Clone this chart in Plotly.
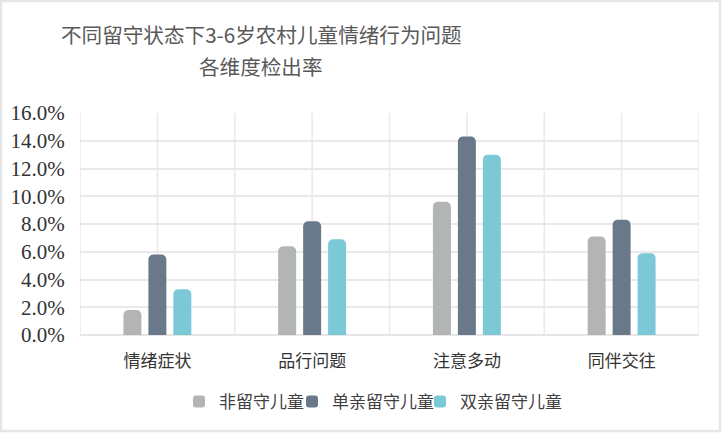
import plotly.graph_objects as go

categories = ["情绪症状", "品行问题", "注意多动", "同伴交往"]
series_names = ["非留守儿童", "单亲留守儿童", "双亲留守儿童"]
non_left = [0.018, 0.064, 0.096, 0.071]
single_left = [0.058, 0.082, 0.143, 0.083]
double_left = [0.033, 0.069, 0.130, 0.059]
series_values = [non_left, single_left, double_left]
colors = ["#b3b5b4", "#6a798a", "#7bc8d6"]
y_ticks = [0, 0.02, 0.04, 0.06, 0.08, 0.10, 0.12, 0.14, 0.16]
title_lines = ["不同留守状态下3-6岁农村儿童情绪行为问题", "各维度检出率"]

W, H = 722, 433
ML, MR, MT, MB = 80, 23, 113, 98
PW, PH = W - ML - MR, H - MT - MB

def px_x(p):
    return (p - ML) / PW

def px_y(p):
    return (MT + PH - p) / PH

legend_names = ["legend", "legend2", "legend3"]
legend_text_starts = [219, 332, 460]

fig = go.Figure()
for name, vals, c, lg in zip(series_names, series_values, colors, legend_names):
    fig.add_trace(go.Bar(x=categories, y=vals, name=name, legend=lg, showlegend=True,
                         marker=dict(color=c, cornerradius=5, line=dict(width=0))))

shapes = []
n = len(categories)
for i in range(n):
    shapes.append(dict(type="line", xref="x", yref="paper", x0=i, x1=i, y0=0, y1=1,
                       line=dict(color="#e9e9e9", width=1.5), layer="below"))
for i in range(n + 1):
    shapes.append(dict(type="line", xref="x", yref="paper", x0=i - 0.5, x1=i - 0.5, y0=0, y1=1,
                       line=dict(color="#e9e9e9", width=1.5), layer="below"))
shapes.append(dict(type="rect", xref="paper", yref="paper",
                   x0=px_x(1), x1=px_x(W - 2), y0=px_y(H - 2), y1=px_y(1),
                   line=dict(color="#e6e6e6", width=2.5), layer="below"))

annotations = []
for line, ypx in zip(title_lines, [34, 66]):
    annotations.append(dict(text=line, xref="paper", yref="paper", x=px_x(261), y=px_y(ypx),
                            xanchor="center", yanchor="middle", showarrow=False,
                            font=dict(family="Noto Sans CJK SC", size=20.6, color="#595959")))

legend_common = dict(orientation="h", yanchor="middle", y=px_y(402), xanchor="left",
                     font=dict(family="Noto Sans CJK SC", size=17, color="#404040"),
                     bgcolor="rgba(0,0,0,0)", borderwidth=0)

fig.update_layout(
    width=W, height=H,
    margin=dict(l=ML, r=MR, t=MT, b=MB, autoexpand=False),
    paper_bgcolor="white", plot_bgcolor="white",
    barmode="group", bargap=0.516, bargroupgap=0.28,
    showlegend=True,
    xaxis=dict(type="category", showgrid=False, zeroline=False, showline=False,
               ticks="outside", ticklen=11, tickcolor="rgba(0,0,0,0)",
               range=[-0.5, n - 0.5], automargin=False,
               tickfont=dict(family="Noto Sans CJK SC", size=17, color="#333333")),
    yaxis=dict(range=[0, 0.16], tickvals=y_ticks, tickformat=".1%", automargin=False,
               showgrid=True, gridcolor="#e9e9e9", gridwidth=1.5,
               zeroline=True, zerolinecolor="#e6e6e6", zerolinewidth=1.5,
               showline=False, ticks="outside", ticklen=10, tickcolor="rgba(0,0,0,0)",
               tickfont=dict(family="Liberation Serif", size=21, color="#333333")),
    legend=dict(x=px_x(legend_text_starts[0] - 40), **legend_common),
    legend2=dict(x=px_x(legend_text_starts[1] - 40), **legend_common),
    legend3=dict(x=px_x(legend_text_starts[2] - 40), **legend_common),
    shapes=shapes,
    annotations=annotations,
)

fig.write_html("out.html", config={"displayModeBar": False},
               post_script="document.body.style.margin='0';")
